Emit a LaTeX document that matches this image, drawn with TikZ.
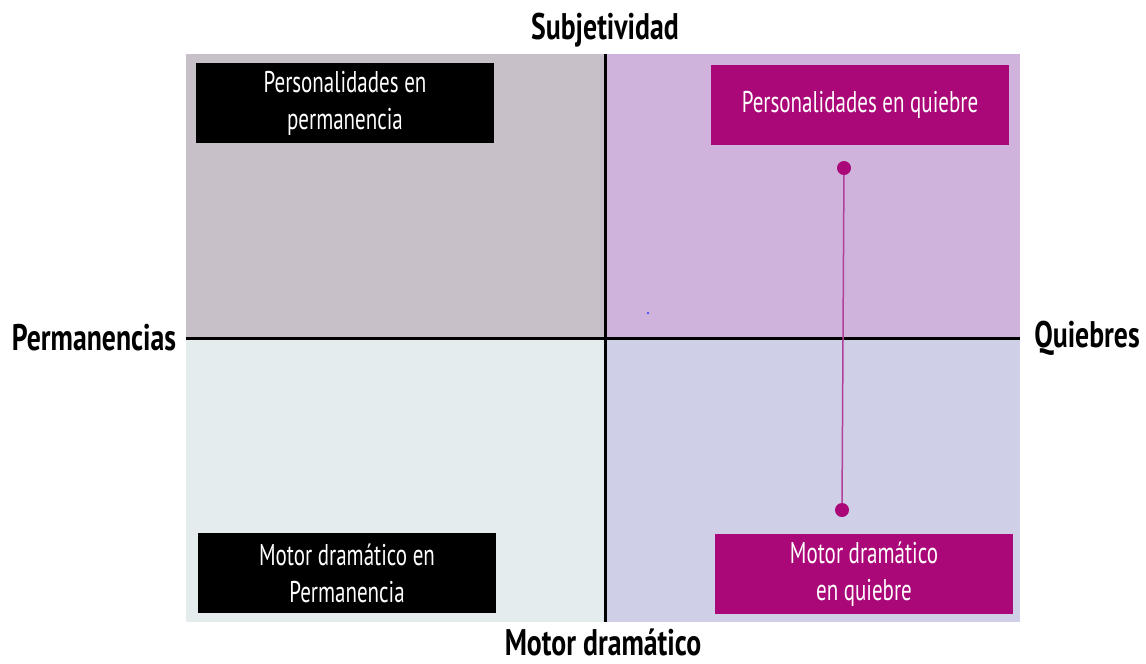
\documentclass[tikz,border=0pt]{standalone}
\usepackage{fontspec}
\setmainfont{PT Sans}[FakeStretch=0.7]
\newfontfamily\labelfont{PT Sans}[FakeStretch=0.75]
\usetikzlibrary{positioning}

\definecolor{permgray}{HTML}{C8C0C8}
\definecolor{quiebrelila}{HTML}{CFB3DC}
\definecolor{motorpale}{HTML}{E4ECEE}
\definecolor{motorlila}{HTML}{CFCFE8}
\definecolor{magenta}{HTML}{AA0878}
\definecolor{linemag}{HTML}{B0409A}

\begin{document}
\begin{tikzpicture}[x=1pt,y=-1pt,
  box/.style={minimum width=298pt, minimum height=80pt, align=center,
    text=white, font=\fontsize{30}{37}\selectfont, inner sep=0pt},
  axislabel/.style={font=\labelfont\fontsize{37}{40}\selectfont\bfseries, inner sep=0pt},
  dot/.style={circle, fill=magenta, minimum size=14pt, inner sep=0pt}]
\useasboundingbox (0,0) rectangle (1146,664);

\fill[permgray] (186,54) rectangle (605,338);
\fill[quiebrelila] (605,54) rectangle (1020,338);
\fill[motorpale] (186,338) rectangle (605,622);
\fill[motorlila] (605,338) rectangle (1020,622);

\draw[line width=3pt] (605,54) -- (605,622);
\draw[line width=3pt] (186,338) -- (1020,338);

\node[axislabel] (subj) at (605,30) {Subjetividad};
\node[axislabel] (motor) at (603,642) {Motor dramático};
\node[axislabel] (perm) at (94,338) {Permanencias};
\node[axislabel] (quie) at (1087,338) {Quiebres};

\node[box, fill=black] (pperm) at (345,103) {Personalidades en\\permanencia};
\node[box, fill=magenta] (pquie) at (860,105) {Personalidades en quiebre};
\node[box, fill=black] (mperm) at (347,573) {Motor dramático en\\Permanencia};
\node[box, fill=magenta] (mquie) at (864,574) {Motor dramático\\en quiebre};

\node[dot] (top) at (844,168) {};
\node[dot] (bot) at (842,510) {};
\draw[linemag, line width=1.5pt] (top) -- (bot);

\fill[blue!80] (648,313) circle (1.2);

\end{tikzpicture}
\end{document}
